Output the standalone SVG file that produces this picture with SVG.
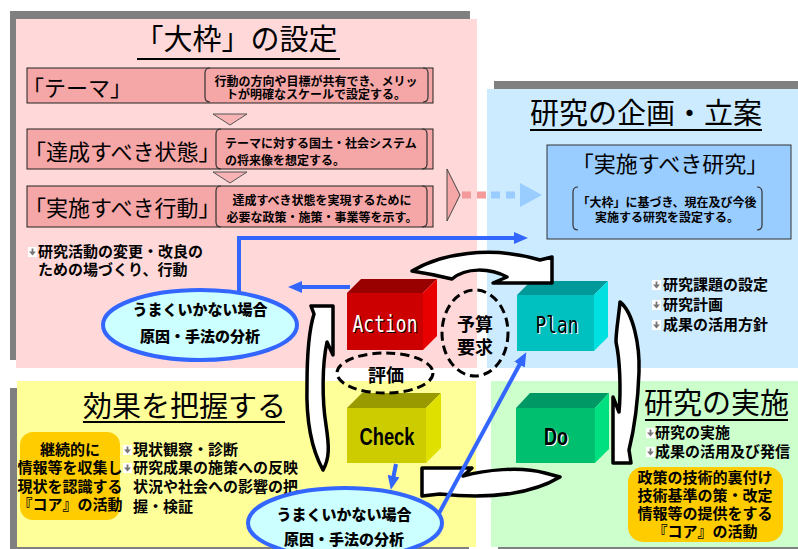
<svg xmlns="http://www.w3.org/2000/svg" width="798" height="549" viewBox="0 0 798 549">
<defs>
<style>
text{font-family:"Noto Sans CJK JP","Noto Sans CJK SC",sans-serif;fill:#000}
.ttl{font-size:29px}
.ul{stroke:#000;stroke-width:2}
.shd{fill:#808080}
.box{fill:#F5A6A6;stroke:#222;stroke-width:1}
.lbl{font-size:22px}
.note{font-size:12px;font-weight:700}
.br{fill:none;stroke:#333;stroke-width:1.2}
.b{font-size:15px;font-weight:700}
.chev{fill:#F8B4B4;stroke:#555;stroke-width:1}
.conn{fill:none;stroke:#3366FF;stroke-width:4}
.cyc{fill:#fff;stroke:#000;stroke-width:3.5;stroke-linejoin:round}
.dash{fill:none;stroke:#000;stroke-width:3;stroke-dasharray:9 5}
.oval{fill:#CCFFFF;stroke:#3366FF;stroke-width:4}
.core{fill:#FFCC00}
.ov{font-size:15px;font-weight:900}
.pd{font-family:"DejaVu Sans Mono",monospace;font-size:23px}
.lat{font-family:"Liberation Sans",sans-serif;font-size:23px;font-weight:700}
</style>
<marker id="ah" markerUnits="userSpaceOnUse" markerWidth="14" markerHeight="12" viewBox="0 0 14 12" refX="3" refY="6" orient="auto">
<path d="M0,0 L14,6 L0,12 Z" fill="#3366FF"/>
</marker>
<symbol id="bul" viewBox="0 0 9 10" width="9" height="10">
<rect width="9" height="10" fill="#fff"/>
<path d="M4.5,8.5 L1,4.5 L3.6,4.5 L3.6,1.5 L5.4,1.5 L5.4,4.5 L8,4.5 Z" fill="#777"/>
</symbol>
</defs>

<!-- panel backgrounds with offset shadows -->
<rect class="shd" x="10" y="11" width="460" height="349"/>
<rect x="16" y="19" width="461" height="349" fill="#FFD9D9"/>
<rect class="shd" x="494" y="81" width="304" height="280"/>
<rect x="487" y="89" width="311" height="279" fill="#CCEBFF"/>
<rect class="shd" x="10" y="388" width="459" height="161"/>
<rect x="17" y="381" width="459" height="166" fill="#FFFF99"/>
<rect class="shd" x="498" y="388" width="300" height="161"/>
<rect x="491" y="381" width="307" height="166" fill="#CCFFCC"/>

<!-- framework panel -->
<g id="framework">
<text class="ttl" x="236" y="50" text-anchor="middle" font-size="30">「大枠」の設定</text>
<line class="ul" x1="137" y1="59" x2="340" y2="59"/>

<g id="theme">
<rect class="box" x="27" y="68" width="406" height="35"/>
<text class="lbl" x="22" y="96">「テーマ」</text>
<path class="br" d="M210,68 Q205,68 205,73 L205,97 Q205,102 210,102 M423,68 Q428,68 428,73 L428,97 Q428,102 423,102"/>
<text class="note" x="316" y="86" text-anchor="middle">行動の方向や目標が共有でき、メリッ</text>
<text class="note" x="316" y="99" text-anchor="middle">トが明確なスケールで設定する。</text>
</g>
<polygon class="chev" points="213,114 247,114 230,125"/>

<g id="state">
<rect class="box" x="27" y="129" width="406" height="40"/>
<text class="lbl" x="24" y="160">「達成すべき状態」</text>
<path class="br" d="M221,129 Q216,129 216,134 L216,164 Q216,169 221,169 M422,129 Q427,129 427,134 L427,164 Q427,169 422,169"/>
<text class="note" x="225" y="148">テーマに対する国土・社会システム</text>
<text class="note" x="225" y="165">の将来像を想定する。</text>
</g>
<polygon class="chev" points="213,172 247,172 230,183"/>

<g id="action-plan">
<rect class="box" x="27" y="186" width="406" height="41"/>
<text class="lbl" x="24" y="216">「実施すべき行動」</text>
<path class="br" d="M221,186 Q216,186 216,191 L216,222 Q216,227 221,227 M422,186 Q427,186 427,191 L427,222 Q427,227 422,227"/>
<text class="note" x="322" y="205" text-anchor="middle">達成すべき状態を実現するために</text>
<text class="note" x="322" y="222" text-anchor="middle">必要な政策・施策・事業等を示す。</text>
</g>

<use href="#bul" x="28" y="247"/>
<text class="b" x="38" y="257" font-size="14">研究活動の変更・改良の</text>
<text class="b" x="38" y="275" font-size="14">ための場づくり、行動</text>
</g>

<!-- planning panel -->
<g id="planning">
<text class="ttl" x="530" y="124">研究の企画・立案</text>
<line class="ul" x1="530" y1="130" x2="762" y2="130"/>
<g id="research-box">
<rect x="547" y="145" width="244" height="94" fill="#99CCFF" stroke="#333" stroke-width="1"/>
<text class="lbl" x="670" y="172" text-anchor="middle">「実施すべき研究」</text>
<path class="br" d="M578,187 Q573,187 573,192 L573,225 Q573,230 578,230 M757,187 Q762,187 762,192 L762,225 Q762,230 757,230"/>
<text class="note" x="667" y="207" text-anchor="middle">「大枠」に基づき、現在及び今後</text>
<text class="note" x="667" y="222" text-anchor="middle">実施する研究を設定する。</text>
</g>
<use href="#bul" x="652" y="280"/>
<text class="b" x="663" y="290">研究課題の設定</text>
<use href="#bul" x="652" y="300"/>
<text class="b" x="663" y="310">研究計画</text>
<use href="#bul" x="652" y="320"/>
<text class="b" x="663" y="330">成果の活用方針</text>
</g>

<!-- evaluation panel -->
<g id="evaluation">
<text class="ttl" x="83" y="417">効果を把握する</text>
<line class="ul" x1="83" y1="422" x2="285" y2="422"/>
<g id="core-left">
<rect class="core" x="20" y="432" width="100" height="88" rx="13"/>
<text class="b" x="70" y="455" font-size="13.5" text-anchor="middle">継続的に</text>
<text class="b" x="70" y="473" font-size="13.5" text-anchor="middle">情報等を収集し</text>
<text class="b" x="70" y="492" font-size="13.5" text-anchor="middle">現状を認識する</text>
<text class="b" x="70" y="510" font-size="13.5" text-anchor="middle">『コア』の活動</text>
</g>
<use href="#bul" x="123" y="445"/>
<text class="b" x="133" y="455">現状観察・診断</text>
<use href="#bul" x="123" y="463"/>
<text class="b" x="133" y="473">研究成果の施策への反映</text>
<text class="b" x="133" y="492">状況や社会への影響の把</text>
<text class="b" x="133" y="512">握・検証</text>
</g>

<!-- implementation panel -->
<g id="implementation">
<text class="ttl" x="644" y="414">研究の実施</text>
<line class="ul" x1="645" y1="420" x2="788" y2="420"/>
<use href="#bul" x="646" y="428"/>
<text class="b" x="655" y="438">研究の実施</text>
<use href="#bul" x="646" y="447"/>
<text class="b" x="655" y="457">成果の活用及び発信</text>
<g id="core-right">
<rect class="core" x="628" y="467" width="155" height="75" rx="15"/>
<text class="b" x="705" y="483" font-size="14" text-anchor="middle">政策の技術的裏付け</text>
<text class="b" x="705" y="501" font-size="14" text-anchor="middle">技術基準の策・改定</text>
<text class="b" x="705" y="519" font-size="14" text-anchor="middle">情報等の提供をする</text>
<text class="b" x="705" y="537" font-size="14" text-anchor="middle">『コア』の活動</text>
</g>
</g>

<!-- PDCA boxes -->
<g id="act">
<polygon points="347,293 423,293 437,279 361,279" fill="#990000"/>
<polygon points="423,293 437,279 437,336 423,350" fill="#E80000"/>
<rect x="347" y="293" width="76" height="57" fill="#CC0000"/>
<text class="pd" x="386" y="333" text-anchor="middle" textLength="65" lengthAdjust="spacingAndGlyphs">Action</text>
<text class="pd" x="385" y="332" text-anchor="middle" textLength="65" lengthAdjust="spacingAndGlyphs" style="fill:#fff">Action</text>
</g>
<g id="plan">
<polygon points="517,295 594,295 608,281 531,281" fill="#009999"/>
<polygon points="594,295 608,281 608,337 594,351" fill="#00E0E0"/>
<rect x="517" y="295" width="77" height="56" fill="#00C0C0"/>
<text class="pd" x="558" y="334" text-anchor="middle" textLength="43" lengthAdjust="spacingAndGlyphs" style="fill:#fff">Plan</text>
<text class="pd" x="557" y="333" text-anchor="middle" textLength="43" lengthAdjust="spacingAndGlyphs">Plan</text>
</g>
<g id="check">
<polygon points="347,408 426,408 441,393 362,393" fill="#999900"/>
<polygon points="426,408 441,393 441,448 426,463" fill="#E0E000"/>
<rect x="347" y="408" width="79" height="55" fill="#CCCC00"/>
<text class="lat" x="387" y="445" text-anchor="middle" textLength="55" lengthAdjust="spacingAndGlyphs">Check</text>
</g>
<g id="do">
<polygon points="516,408 595,408 609,393 530,393" fill="#009966"/>
<polygon points="595,408 609,393 609,449 595,463" fill="#00E080"/>
<rect x="516" y="408" width="79" height="55" fill="#00C070"/>
<text class="lat" x="557" y="446" text-anchor="middle" textLength="24" lengthAdjust="spacingAndGlyphs" style="fill:#fff">Do</text>
<text class="lat" x="556" y="445" text-anchor="middle" textLength="24" lengthAdjust="spacingAndGlyphs">Do</text>
</g>

<!-- dashed labels -->
<g id="budget">
<ellipse class="dash" cx="475" cy="333" rx="33" ry="43"/>
<text x="475" y="331" text-anchor="middle" font-size="18" font-weight="700">予算</text>
<text x="475" y="354" text-anchor="middle" font-size="18" font-weight="700">要求</text>
</g>
<g id="assess">
<ellipse class="dash" cx="385" cy="373" rx="48" ry="20"/>
<text x="386" y="382" text-anchor="middle" font-size="18" font-weight="700">評価</text>
</g>

<!-- analysis ovals -->
<g id="analysis-top">
<ellipse class="oval" cx="200" cy="325" rx="97" ry="35"/>
<text class="ov" x="200" y="315" text-anchor="middle">うまくいかない場合</text>
<text class="ov" x="200" y="342" text-anchor="middle">原因・手法の分析</text>
</g>

<!-- connectors -->
<g id="connectors">
<path class="cyc" d="M412,271 C440,254 490,245 540,260 L552,257 L552,283 L493,283 L507,277 C490,268 466,267 452,279 C440,276 425,273 412,271 Z"/>
<path class="cyc" d="M620,302 C633,312 640,345 639,372 C638,400 634,430 629,450 L631,463 L613,463 L613,397 L619,412 C621,390 620,360 616,342 C616,330 619,315 620,302 Z"/>
<path class="cyc" d="M560,477 C535,492 495,500 440,494 L422,496 L422,468 L472,468 L463,476 C485,470 520,466 545,473 L560,477 Z"/>
<path class="cyc" d="M323,470 C312,450 306,420 307,385 C307,350 309,330 314,314 L311,306 L333,306 L333,355 L327,342 C322,365 322,400 326,425 C329,445 330,458 323,470 Z"/>

<line x1="462" y1="195" x2="487" y2="195" stroke="#F49A9A" stroke-width="7" stroke-dasharray="9 6"/>
<line x1="491" y1="195" x2="520" y2="195" stroke="#99CCFF" stroke-width="7" stroke-dasharray="9 6"/>
<polygon points="520,183 542,195 520,207" fill="#99CCFF"/>
<polygon points="447,169 460,195 447,221" fill="#F5A6A6" stroke="#444" stroke-width="1"/>

<polyline class="conn" points="239,292 239,238 517,238" marker-end="url(#ah)"/>
<line class="conn" x1="350" y1="287" x2="299" y2="287" marker-end="url(#ah)"/>
<line class="conn" x1="396" y1="464" x2="393" y2="479" marker-end="url(#ah)"/>
<line class="conn" x1="437" y1="517" x2="521" y2="362" marker-end="url(#ah)"/>
</g>

<g id="analysis-bottom">
<ellipse class="oval" cx="345" cy="523" rx="97" ry="35"/>
<text class="ov" x="344" y="520" text-anchor="middle">うまくいかない場合</text>
<text class="ov" x="344" y="545" text-anchor="middle">原因・手法の分析</text>
</g>
</svg>
